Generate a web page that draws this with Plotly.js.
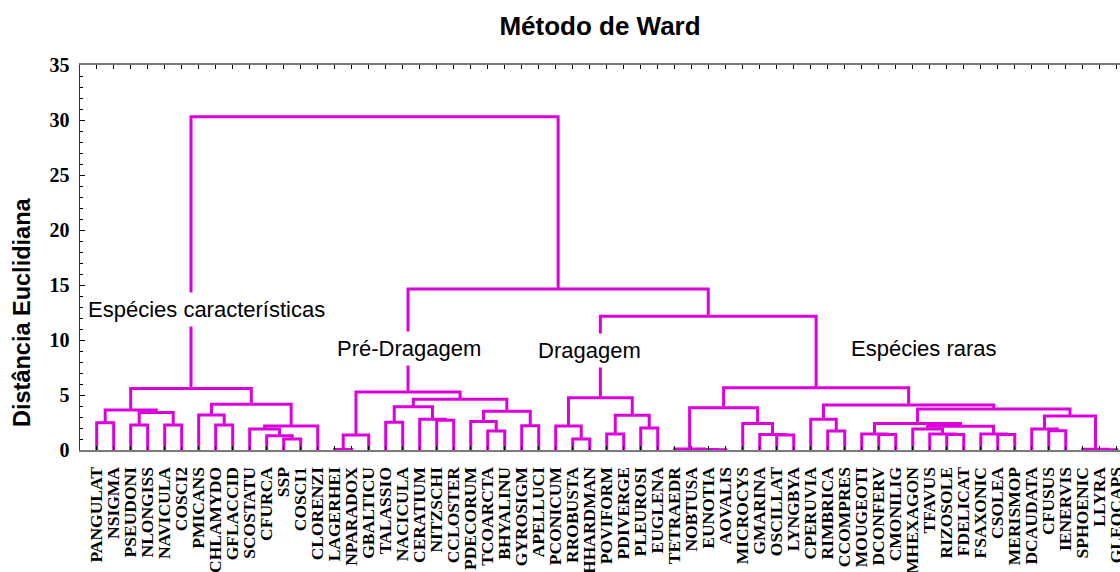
<!DOCTYPE html>
<html><head><meta charset="utf-8">
<script src="https://cdn.plot.ly/plotly-3.0.1.min.js"></script>
<style>html,body{margin:0;padding:0;background:#fff;overflow:hidden}</style>
</head><body><div id="chart" style="width:1120px;height:572px"></div>
<script>
// ---- data ----
const leafLabels = ['PANGULAT','NSIGMA','PSEUDONI','NLONGISS','NAVICULA','COSCI2','PMICANS','CHLAMYDO','GFLACCID','SCOSTATU',
  'CFURCA','SSP','COSCI1','CLORENZI','LAGERHEI','NPARADOX','GBALTICU','TALASSIO','NACICULA','CERATIUM',
  'NITZSCHI','CCLOSTER','PDECORUM','TCOARCTA','BHYALINU','GYROSIGM','APELLUCI','PCONICUM','RROBUSTA','HHARDMAN',
  'POVIFORM','PDIVERGE','PLEUROSI','EUGLENA','TETRAEDR','NOBTUSA','EUNOTIA','AOVALIS','MICROCYS','GMARINA',
  'OSCILLAT','LYNGBYA','CPERUVIA','RIMBRICA','CCOMPRES','MOUGEOTI','DCONFERV','CMONILIG','MHEXAGON','TFAVUS',
  'RIZOSOLE','FDELICAT','FSAXONIC','CSOLEA','MERISMOP','DCAUDATA','CFUSUS','IENERVIS','SPHOENIC','LLYRA','GLEOCAPS'];
// merge k creates node id 61+k; children are leaf indices (0..60) or earlier node ids
const mergeA = [0,2,4,62,61,7,6,11,10,9,70,67,65,
  14,74,17,20,19,76,23,22,25,81,79,75,
  28,27,30,32,88,87,
  36,35,34,40,39,38,94,43,42,46,45,50,49,48,53,52,105,102,56,55,59,58,111,109,100,98,
  91,85,73];
const mergeB = [1,3,5,63,64,8,66,12,68,69,13,71,72,
  15,16,18,21,77,78,24,80,26,82,83,84,
  29,86,31,33,89,90,
  37,92,93,41,95,96,97,44,99,47,101,51,103,104,54,106,107,108,57,110,60,112,113,114,115,116,
  117,118,119];
const mergeH = [2.48,2.27,2.27,3.42,3.64,2.27,3.18,1.0,1.3,1.91,2.18,4.15,5.6,
  0.05,1.36,2.52,2.7,2.79,3.94,1.73,2.58,2.21,3.52,4.61,5.27,
  1.0,2.18,1.45,2.0,3.15,4.76,
  0.03,0.05,0.08,1.36,1.42,2.42,3.85,1.73,2.79,1.40,1.45,1.40,1.45,1.91,1.40,1.45,2.15,2.42,1.76,1.91,0.03,0.06,3.1,3.73,4.09,5.67,
  12.15,14.64,30.3];
const yTickVals = [0,5,10,15,20,25,30,35];
const groupLabels = ['Espécies características','Pré-Dragagem','Dragagem','Espécies raras'];
const chartTitle = 'Método de Ward';
const yTitle = 'Distância Euclidiana';

// ---- build dendrogram segments ----
const nLeaf = leafLabels.length;
const leafPos = leafLabels.map((_, i) => i + 1);
const nodeX = leafPos.slice();
const nodeY = new Array(nLeaf).fill(0);
const segX = [], segY = [];
for (let k = 0; k < mergeH.length; k++) {
  const a = mergeA[k], b = mergeB[k], h = mergeH[k];
  segX.push(nodeX[a], nodeX[a], nodeX[b], nodeX[b], null);
  segY.push(nodeY[a], h, h, nodeY[b], null);
  nodeX.push((nodeX[a] + nodeX[b]) / 2);
  nodeY.push(h);
}

const magenta = '#DC00DC';
const trace = {
  x: segX, y: segY, type: 'scatter', mode: 'lines',
  line: {color: magenta, width: 3}, hoverinfo: 'skip', showlegend: false
};

const annFont = {family: 'Liberation Sans, Arial, sans-serif', size: 22, color: '#000'};
const layout = {
  width: 1120, height: 572,
  margin: {l: 80, r: 0, t: 65, b: 122, pad: 0},
  paper_bgcolor: '#fff', plot_bgcolor: '#fff',
  title: {text: chartTitle, x: 600/1120, xanchor: 'center', y: 1 - 26/572, yanchor: 'middle',
    font: {family: 'Liberation Sans, Arial, sans-serif', size: 26, color: '#000', weight: 'bold'}},
  xaxis: {
    range: [0.0176, 61.19], tickmode: 'array', tickvals: leafPos, ticktext: leafLabels,
    tickangle: -90, ticks: 'inside', ticklen: 4, tickcolor: '#000', tickwidth: 1,
    showline: true, linecolor: '#7a7a7a', linewidth: 2, mirror: 'ticks',
    showgrid: false, zeroline: false, automargin: false, ticklabelstandoff: 8,
    ticklabeloverflow: 'allow',
    tickfont: {family: 'Liberation Serif, Times New Roman, serif', size: 17.5, color: '#000', weight: 'bold'}
  },
  yaxis: {
    range: [0, 35], tickmode: 'array', tickvals: yTickVals,
    ticks: 'inside', ticklen: 5, tickcolor: '#000', tickwidth: 1,
    minor: {dtick: 1, ticks: 'inside', ticklen: 3, tickcolor: '#000', tickwidth: 1},
    showline: true, linecolor: '#333', linewidth: 1.5, mirror: false,
    showgrid: false, zeroline: false, automargin: false, ticklabelstandoff: 5,
    tickfont: {family: 'Liberation Serif, Times New Roman, serif', size: 20, color: '#000', weight: 'bold'}
  },
  annotations: [
    {text: groupLabels[0], x: 7.43, y: 12.73, xref: 'x', yref: 'y', showarrow: false, bgcolor: '#fff', borderpad: 4, font: annFont},
    {text: groupLabels[1], x: 19.37, y: 9.27, xref: 'x', yref: 'y', showarrow: false, bgcolor: '#fff', borderpad: 4, font: annFont},
    {text: groupLabels[2], x: 29.96, y: 9.09, xref: 'x', yref: 'y', showarrow: false, bgcolor: '#fff', borderpad: 4, font: annFont},
    {text: groupLabels[3], x: 49.67, y: 9.27, xref: 'x', yref: 'y', showarrow: false, bgcolor: '#fff', borderpad: 4, font: annFont},
    {text: yTitle, textangle: -90, x: (22 - 80) / 1040, y: (450 - 313) / 385, xref: 'paper', yref: 'paper', xanchor: 'center', yanchor: 'middle',
      showarrow: false, font: {family: 'Liberation Sans, Arial, sans-serif', size: 23.5, color: '#000', weight: 'bold'}}
  ]
};
Plotly.newPlot('chart', [trace], layout, {staticPlot: true, displayModeBar: false});
</script></body></html>
